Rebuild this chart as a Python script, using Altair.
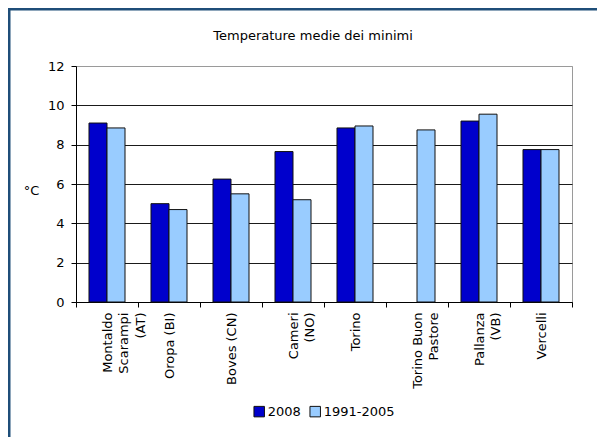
import altair as alt
import pandas as pd

# ---- data ----
stations = ["Montaldo|Scarampi|(AT)", "Oropa (BI)", "Boves (CN)", "Cameri|(NO)",
            "Torino", "Torino Buon|Pastore", "Pallanza|(VB)", "Vercelli"]
series = ["2008", "1991-2005"]
values_2008 = [9.1, 5.0, 6.25, 7.65, 8.85, None, 9.2, 7.75]
values_1991_2005 = [8.85, 4.7, 5.5, 5.2, 8.95, 8.75, 9.55, 7.75]
y_ticks = [0, 2, 4, 6, 8, 10, 12]
colors = ["#0000CC", "#99CCFF"]

rows = []
for st, a, b in zip(stations, values_2008, values_1991_2005):
    if a is not None:
        rows.append({"station": st, "series": series[0], "value": a})
    if b is not None:
        rows.append({"station": st, "series": series[1], "value": b})
df = pd.DataFrame(rows)

FONT = "DejaVu Sans"

bars = alt.Chart(df).mark_bar(stroke="#111111", strokeWidth=1).encode(
    x=alt.X(
        "station:N", sort=stations,
        scale=alt.Scale(paddingInner=0, paddingOuter=0),
        axis=alt.Axis(
            title=None, labelExpr="split(datum.label, '|')", labelAngle=-90,
            labelAlign="right", labelBaseline="middle", labelPadding=5,
            labelLineHeight=16.5, tickSize=5, tickBand="extent",
            domainColor="black", tickColor="black", labelColor="black",
            labelFont=FONT, labelFontSize=13,
        ),
    ),
    xOffset=alt.XOffset("series:N", sort=series,
                        scale=alt.Scale(paddingInner=0, paddingOuter=0.722)),
    y=alt.Y(
        "value:Q",
        scale=alt.Scale(domain=[0, 12], nice=False),
        axis=alt.Axis(
            values=y_ticks, title="°C", titleAngle=0, titleX=-45, titleY=124,
            titleAlign="center", titleBaseline="middle", titleFont=FONT,
            titleFontSize=13, titleFontWeight="normal", titleColor="black",
            grid=True,
            gridColor={"condition": {"test": "datum.value === 12", "value": "#9a9a9a"},
                       "value": "#1a1a1a"},
            gridWidth=1, tickSize=5, labelPadding=7, domainColor="black",
            tickColor="black", labelColor="black", labelFont=FONT, labelFontSize=13,
        ),
    ),
    color=alt.Color(
        "series:N", sort=series,
        scale=alt.Scale(domain=series, range=colors),
        legend=alt.Legend(
            title=None, orient="none", legendX=176.7, legendY=339,
            direction="horizontal", symbolType="square", symbolSize=110,
            symbolStrokeColor="#111111", symbolStrokeWidth=1, symbolOpacity=1,
            labelFont=FONT, labelFontSize=13, labelColor="black",
            labelOffset=2, columnPadding=6, padding=0,
        ),
    ),
)

frame_df = pd.DataFrame({"k": [0]})
frame_left = alt.Chart(frame_df).mark_rule(color="#1f4e79", strokeWidth=3).encode(
    x=alt.value(-67), y=alt.value(-58), y2=alt.value(371))
frame_top = alt.Chart(frame_df).mark_rule(color="#1f4e79", strokeWidth=3).encode(
    y=alt.value(-57), x=alt.value(-68), x2=alt.value(521))

chart = alt.layer(bars, frame_left, frame_top).properties(
    width=496, height=236,
    title=alt.TitleParams("Temperature medie dei minimi", font=FONT, fontSize=13,
                          fontWeight="normal", color="black", anchor="middle",
                          frame="group", baseline="middle",
                          dx=-11, offset=-42.5),
    autosize=alt.AutoSizeParams(type="none"),
    padding={"left": 68, "top": 58, "right": 25, "bottom": 135},
).configure(font=FONT, background="white").configure_view(
    stroke="#9a9a9a", strokeWidth=1
)

chart.save("out.html", embed_options={"renderer": "svg", "actions": False})
